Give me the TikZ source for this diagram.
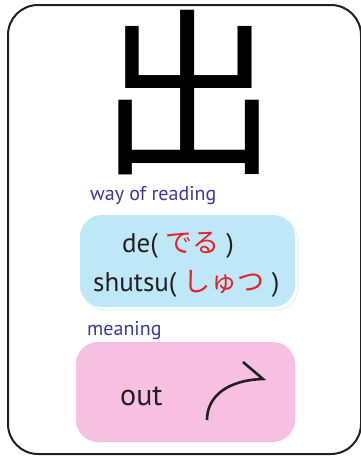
\documentclass[tikz,border=0pt]{standalone}
\usepackage{fontspec}
\setmainfont{PT Sans}
\newfontfamily\jp{Noto Sans CJK JP}

\begin{document}
\begin{tikzpicture}[x=1pt,y=-1pt]

\definecolor{labelblue}{RGB}{58,58,150}
\definecolor{kanared}{RGB}{232,35,40}
\definecolor{readbg}{RGB}{190,231,247}
\definecolor{meanbg}{RGB}{248,192,224}
\definecolor{ink}{RGB}{35,31,32}

\tikzstyle{label}=[text=labelblue,font=\fontsize{20}{22}\selectfont,anchor=base west,inner sep=0pt]
\tikzstyle{word}=[text=ink,font=\fontsize{27}{30}\selectfont,anchor=base west,inner sep=0pt]
\tikzstyle{panel}=[rounded corners=22pt]

\useasboundingbox (0,0) rectangle (360,456);

\draw[ink,line width=2pt,rounded corners=30pt] (8,5) rectangle (361,454);

\node       (kanji)   at (188,93)  {\jp\fontsize{180}{180}\selectfont 出} ;

\node[label] (way)     at (90,200)  {way of reading} ;
\draw[readbg!70,line width=0.8pt,panel] (83,218) rectangle (298,310);
\fill[readbg,panel] (80,215) rectangle (295,307);
\node[word]  (de)      at (122,252) {de( \textcolor{kanared}{\jp でる} )} ;
\node[word]  (shutsu)  at (93,291)  {shutsu( \textcolor{kanared}{\jp しゅつ} )} ;

\node[label] (meaning) at (87,335)  {meaning} ;
\fill[meanbg,panel] (76,342) rectangle (295,442);
\node[word,font=\fontsize{30}{32}\selectfont] (out) at (120,405) {out} ;

% bent arrow
\draw[ink,line width=2.6pt] (207,420) .. controls (207,396) and (228,380) .. (263,379) -- (243,362);

\end{tikzpicture}
\end{document}
